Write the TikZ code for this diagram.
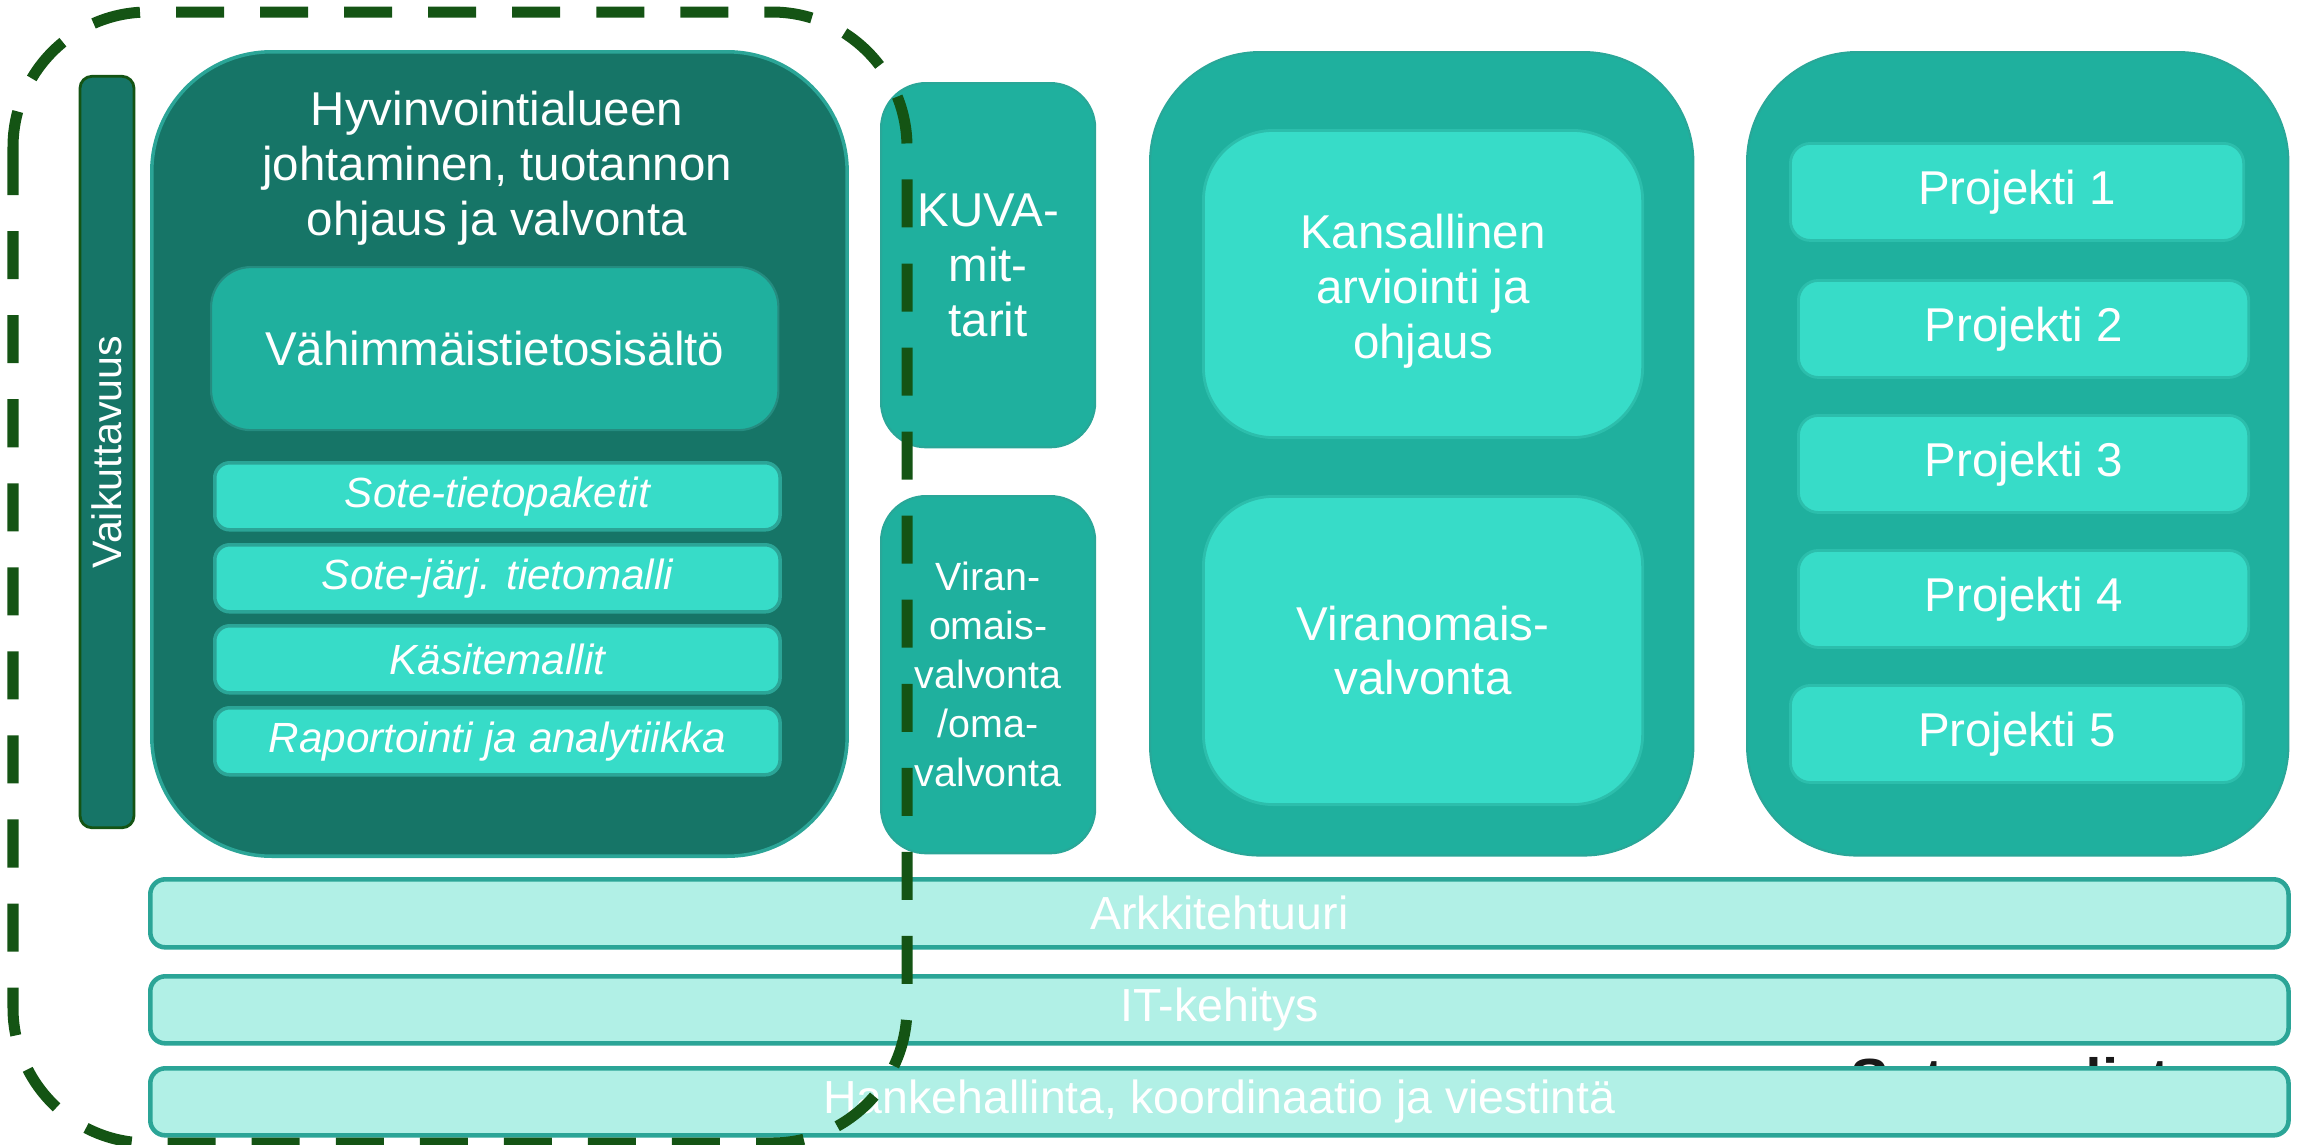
\documentclass[tikz,border=0pt]{standalone}
\usepackage{fontspec}
\setmainfont{Liberation Sans}
\usetikzlibrary{positioning}
\usepackage{xcolor}
\definecolor{darkteal}{RGB}{22,117,103}
\definecolor{midteal}{RGB}{31,176,158}
\definecolor{brightteal}{RGB}{55,220,200}
\definecolor{paleteal}{RGB}{177,240,230}
\definecolor{rimteal}{RGB}{43,165,151}
\definecolor{brightrim}{RGB}{44,190,172}
\definecolor{dashgreen}{RGB}{20,84,20}

\begin{document}
\begin{tikzpicture}[x=0.01cm, y=-0.01cm,
  box/.style={rectangle, anchor=north west, inner sep=0pt, align=center,
              text=white, font=\fontsize{13.5pt}{15.6pt}\selectfont},
  area/.style={box, fill=darkteal, draw=rimteal, line width=1pt, rounded corners=1.2cm},
  column/.style={box, fill=midteal, draw=rimteal!80!midteal, line width=0.6pt, rounded corners=1.1cm},
  tall/.style={box, fill=midteal, draw=rimteal!80!midteal, line width=0.6pt, rounded corners=0.45cm,
               minimum width=2.14cm},
  inner/.style={box, fill=brightteal, draw=brightrim, line width=0.8pt, rounded corners=0.7cm,
                minimum width=4.39cm},
  layer/.style={box, fill=brightteal, draw=rimteal, line width=1pt, rounded corners=0.15cm,
                minimum width=5.65cm, minimum height=0.67cm,
                font=\fontsize{12pt}{14pt}\selectfont\itshape},
  proj/.style={box, fill=brightteal, draw=brightrim, line width=0.8pt, rounded corners=0.2cm,
               minimum height=0.97cm},
  band/.style={box, fill=paleteal, draw=rimteal, line width=1.3pt, rounded corners=0.15cm,
               minimum width=21.37cm, minimum height=0.67cm,
               font=\fontsize{13.2pt}{15pt}\selectfont},
  scopeline/.style={draw=dashgreen, line width=0.11cm, dash pattern=on 0.48cm off 0.36cm,
                    rounded corners=1.35cm}
]
\useasboundingbox (0,0) rectangle (2302,1144);

% ===== VAIKUTTAVUUS =====
\node[box, anchor=center, rotate=90, fill=darkteal, draw=dashgreen, line width=0.8pt,
      rounded corners=0.12cm, minimum width=7.51cm, minimum height=0.54cm,
      font=\fontsize{11.7pt}{14pt}\selectfont] (vaik) at (107,452) {Vaikuttavuus};

% ===== HYVINVOINTIALUE =====
\node[area, minimum width=6.95cm, minimum height=8.04cm] (hyv) at (150,50) {};
\node[box, anchor=center] (hyvtitle) at (497,168) {Hyvinvointialueen\\johtaminen, tuotannon\\ohjaus ja valvonta};
\node[box, fill=midteal, draw=rimteal!85!black, line width=0.6pt, rounded corners=0.4cm,
      minimum width=5.67cm, minimum height=1.63cm] (vahim) at (210,266) {Vähimmäistietosisältö};

\foreach \n/\y/\t in {paketit/461/Sote-tietopaketit, tietomalli/543/Sote-järj. tietomalli,
                      kasite/624/Käsitemallit, raportointi/706/Raportointi ja analytiikka}{
  \node[layer] (\n) at (213,\y) {\t};
}

% ===== KUVA / VALVONTA =====
\node[tall, minimum height=3.64cm] (kuva) at (880,82) {KUVA-\\mit-\\tarit};
\node[tall, minimum height=3.57cm, font=\fontsize{11.2pt}{13.9pt}\selectfont] (oma) at (880,495)
  {Viran-\\omais-\\valvonta\\/oma-\\valvonta};

% ===== KANSALLINEN =====
\node[column, minimum width=5.43cm, minimum height=8.03cm] (kans) at (1149,51) {};
\node[inner, minimum height=3.07cm] (arviointi) at (1202,129) {\rule{0pt}{14pt}Kansallinen\\arviointi ja\\ohjaus};
\node[inner, minimum height=3.08cm] (viranom) at (1202,495) {Viranomais-\\valvonta};

% ===== PROJEKTIT =====
\node[column, minimum width=5.41cm, minimum height=8.03cm] (projektit) at (1746,51) {};
\foreach \i/\x/\y/\w in {1/1789/142/4.53, 2/1797/279/4.50, 3/1797/414/4.50,
                         4/1797/549/4.50, 5/1789/684/4.53}{
  \node[proj, minimum width=\w cm] (p\i) at (\x,\y) {Projekti \i};
}

% ===== LOGO (behind the bands) =====
\node[anchor=base west, inner sep=0pt, text=black!90,
      font=\fontsize{16.5pt}{18pt}\selectfont\bfseries] (logo) at (1850,1099) {Sote-uudistus};

% ===== BANDS =====
\node[band, minimum height=0.68cm] (arkki) at (148,877) {Arkkitehtuuri};
\node[band] (itkeh) at (148,974) {IT-kehitys};
\node[band] (hanke) at (148,1066) {Hankehallinta, koordinaatio ja viestintä};

% ===== SCOPE =====
\draw[scopeline] (13,12) rectangle (907,1143);

\end{tikzpicture}
\end{document}
